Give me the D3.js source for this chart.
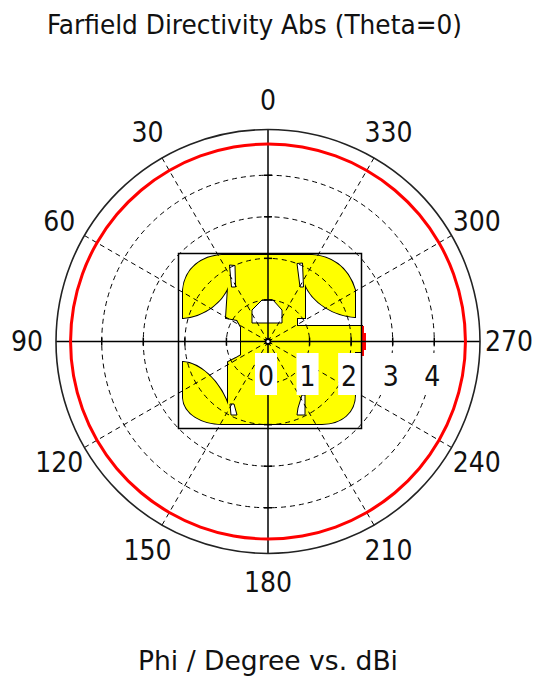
<!DOCTYPE html>
<html>
<head>
<meta charset="utf-8">
<script src="https://cdn.jsdelivr.net/npm/d3@7"></script>
<style>
  html, body { margin: 0; padding: 0; background: #fff; }
  svg { display: block; }
  text { font-family: "DejaVu Sans Condensed", "DejaVu Sans", sans-serif; fill: #111; }
</style>
</head>
<body>
<svg id="chart" width="546" height="684"></svg>
<script>
// Farfield cut: Phi sweep at Theta = 0, directivity in dBi
const titleText = "Farfield Directivity Abs (Theta=0)";
const axisLabel = "Phi / Degree vs. dBi";
const phiDeg = [0, 10, 20, 30, 40, 50, 60, 70, 80, 90, 100, 110, 120, 130, 140, 150, 160, 170,
                180, 190, 200, 210, 220, 230, 240, 250, 260, 270, 280, 290, 300, 310, 320, 330, 340, 350];
const directivity = [4.75, 4.75, 4.75, 4.75, 4.75, 4.75, 4.75, 4.75, 4.75, 4.75, 4.75, 4.75,
                     4.75, 4.75, 4.75, 4.75, 4.75, 4.75, 4.75, 4.75, 4.75, 4.75, 4.75, 4.75,
                     4.75, 4.75, 4.75, 4.75, 4.75, 4.75, 4.75, 4.75, 4.75, 4.75, 4.75, 4.75];
const angleTicks = [0, 30, 60, 90, 120, 150, 180, 210, 240, 270, 300, 330];
const radialTicks = [0, 1, 2, 3, 4];
const gridRings = [1, 2, 3, 4];
const radialMax = 5.1;

const svg = d3.select("#chart");
const cx = 268, cy = 341.5, outerR = 212;

const r = d3.scaleLinear().domain([0, radialMax]).range([0, outerR]);
// Phi runs counter-clockwise from the top
const toRad = d => -d * Math.PI / 180;
const px = (deg, rad) => cx - rad * Math.sin(deg * Math.PI / 180);
const py = (deg, rad) => cy - rad * Math.cos(deg * Math.PI / 180);

// ---- antenna layout sketch behind the grid ----
const ant = svg.append("g").attr("transform", `translate(${cx - 268},${cy - 341.5})`);
const bodyPath =
  "M222,255 L312,255 C330,256 348,266 355,290 L355,317 " +
  "C335,316 312,303 305,284 L305,318 L297,318 L297,326 L362,326 L362,352 L355,352 " +
  "L355,395 C355,412 342,424 322,424 L222,424 C202,424 184,414 183,398 L183,362 " +
  "C198,363 220,378 230,410 L228,405 L228,362 L236,358 L241,355 L241,327 L237,320 L226,318 L228,287 " +
  "C222,302 205,316 183,318 L183,290 C185,268 202,256 222,255 Z";
ant.append("path").attr("d", bodyPath).attr("fill", "none").attr("stroke", "#000").attr("stroke-width", 2);
ant.append("path").attr("d", bodyPath).attr("fill", "#ffff00").attr("stroke", "none");
const holes = [
  "M229.5,265 L235,265.5 L235.5,287 L231.5,287 Z",
  "M297,263.5 L302.5,263 L303.5,287 L300,287 Z",
  "M230,404 L234,404 L237,415 L231,415 Z",
  "M302,395 L305,395 L305,415 L297,415 L298,408 Z",
  "M252,310 L262,300 L273,300 L282,310 L282,323 L252,323 Z"
];
ant.selectAll("path.hole").data(holes).join("path")
  .attr("class", "hole").attr("d", d => d)
  .attr("fill", "#fff").attr("stroke", "#000").attr("stroke-width", 1);
// feed point marker
ant.append("rect").attr("x", 362).attr("y", 333).attr("width", 4).attr("height", 17).attr("fill", "#ff0000");
ant.append("line").attr("x1", 363).attr("x2", 363).attr("y1", 326).attr("y2", 356)
  .attr("stroke", "#ff0000").attr("stroke-width", 2);
// substrate outline
ant.append("rect").attr("x", 178.5).attr("y", 253.5).attr("width", 183).attr("height", 175)
  .attr("fill", "none").attr("stroke", "#000").attr("stroke-width", 1.5);

// ---- polar grid ----
const grid = svg.append("g");
grid.selectAll("circle.ring").data(gridRings).join("circle")
  .attr("class", "ring").attr("cx", cx).attr("cy", cy).attr("r", d => r(d))
  .attr("fill", "none").attr("stroke", "#000").attr("stroke-width", 1)
  .attr("stroke-dasharray", "5,4");
grid.selectAll("line.spoke").data(angleTicks.filter(a => a % 90 !== 0)).join("line")
  .attr("class", "spoke")
  .attr("x1", cx).attr("y1", cy)
  .attr("x2", d => px(d, outerR)).attr("y2", d => py(d, outerR))
  .attr("stroke", "#000").attr("stroke-width", 1).attr("stroke-dasharray", "5,4");
grid.selectAll("line.axis").data([0, 90]).join("line")
  .attr("class", "axis")
  .attr("x1", d => px(d, outerR)).attr("y1", d => py(d, outerR))
  .attr("x2", d => px(d + 180, outerR)).attr("y2", d => py(d + 180, outerR))
  .attr("stroke", "#000").attr("stroke-width", 1.5);
// unit ticks along the four half-axes
const tickData = [];
[0, 90, 180, 270].forEach(a => gridRings.forEach(v => tickData.push({ a, v })));
grid.selectAll("line.tick").data(tickData).join("line")
  .attr("class", "tick")
  .attr("x1", d => px(d.a, r(d.v)) + 4 * Math.cos(d.a * Math.PI / 180))
  .attr("y1", d => py(d.a, r(d.v)) - 4 * Math.sin(d.a * Math.PI / 180))
  .attr("x2", d => px(d.a, r(d.v)) - 4 * Math.cos(d.a * Math.PI / 180))
  .attr("y2", d => py(d.a, r(d.v)) + 4 * Math.sin(d.a * Math.PI / 180))
  .attr("stroke", "#000").attr("stroke-width", 1.5);
grid.append("circle").attr("cx", cx).attr("cy", cy).attr("r", outerR)
  .attr("fill", "none").attr("stroke", "#222").attr("stroke-width", 1.6);
grid.append("circle").attr("cx", cx).attr("cy", cy).attr("r", 2.5)
  .attr("fill", "#fff").attr("stroke", "#000").attr("stroke-width", 1.8);

// ---- directivity trace ----
const line = d3.lineRadial()
  .angle((d, i) => toRad(phiDeg[i]))
  .radius(d => r(d))
  .curve(d3.curveCatmullRomClosed);
svg.append("path")
  .datum(directivity)
  .attr("transform", `translate(${cx},${cy})`)
  .attr("d", line)
  .attr("fill", "none").attr("stroke", "#ff0000").attr("stroke-width", 3);

// ---- radial value labels ----
const rl = svg.append("g");
rl.selectAll("rect").data(radialTicks).join("rect")
  .attr("x", d => cx + r(d) - 2 - 11).attr("y", 353).attr("width", 22).attr("height", 42)
  .attr("fill", "#fff");
rl.selectAll("text").data(radialTicks).join("text")
  .attr("x", d => cx + r(d) - 2).attr("y", 376)
  .attr("text-anchor", "middle").attr("dominant-baseline", "central")
  .attr("font-size", 28).text(d => d);

// ---- phi labels ----
const labelR = 241;
svg.append("g").selectAll("text").data(angleTicks).join("text")
  .attr("x", d => px(d, labelR)).attr("y", d => py(d, labelR))
  .attr("text-anchor", "middle").attr("dominant-baseline", "central")
  .attr("font-size", 28).text(d => d);

// ---- titles ----
svg.append("text").attr("x", 254.5).attr("y", 34).attr("text-anchor", "middle")
  .attr("font-size", 27).attr("textLength", 415).attr("lengthAdjust", "spacingAndGlyphs")
  .text(titleText);
svg.append("text").attr("x", 268).attr("y", 670).attr("text-anchor", "middle")
  .attr("font-size", 27).attr("textLength", 260).attr("lengthAdjust", "spacingAndGlyphs")
  .text(axisLabel);
</script>
</body>
</html>
